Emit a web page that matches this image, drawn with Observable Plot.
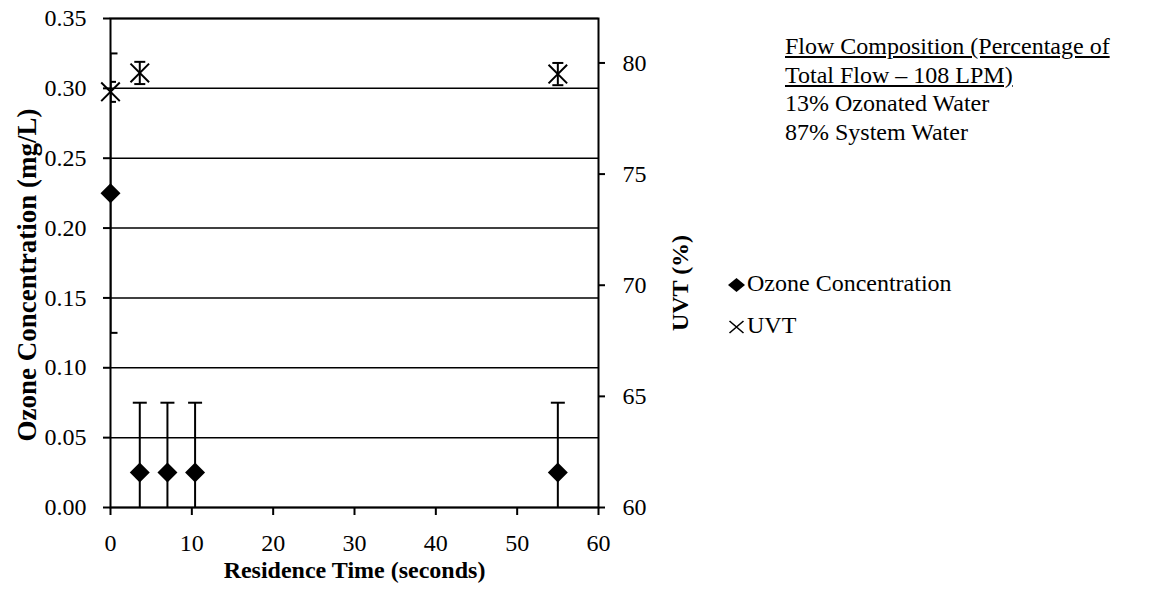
<!DOCTYPE html>
<html><head><meta charset="utf-8">
<script src="https://cdn.jsdelivr.net/npm/d3@7"></script>
<script src="https://cdn.jsdelivr.net/npm/@observablehq/plot@0.6"></script>
<style>
body{margin:0;background:#fff;}
#wrap{position:relative;width:1158px;height:592px;font-family:"Liberation Serif","Times New Roman",serif;color:#000;}
.note{position:absolute;left:785px;top:32px;font-size:24px;line-height:28.5px;white-space:nowrap;}
.u{text-decoration:underline;}
.leg{position:absolute;left:728px;font-size:24px;line-height:28px;white-space:nowrap;}
.leg svg{vertical-align:-1px;margin-right:2px;}
</style></head><body><div id="wrap"></div>
<script>
// ---- data ----
const xTicks = [0, 10, 20, 30, 40, 50, 60];
const yTicks = [0, 0.05, 0.10, 0.15, 0.20, 0.25, 0.30, 0.35];
const uvtTicks = [60, 65, 70, 75, 80];
const yDomain = [0, 0.35];
const uvtDomain = [60, 82];

const ozoneTime = [0, 3.6, 7.0, 10.4, 55.0];
const ozoneConc = [0.225, 0.025, 0.025, 0.025, 0.025];
const ozoneErr  = [0.10, 0.05, 0.05, 0.05, 0.05];

const uvtTime  = [0, 3.6, 55.0];
const uvtValue = [78.7, 79.55, 79.5];
const uvtErr   = [0.45, 0.5, 0.5];

const noteLines = ["Flow Composition (Percentage of", "Total Flow \u2013 108 LPM)", "13% Ozonated Water", "87% System Water"];
const seriesNames = ["Ozone Concentration", "UVT"];

// ---- derived tables ----
const toY = v => (v - uvtDomain[0]) / (uvtDomain[1] - uvtDomain[0]) * yDomain[1];
const fromY = y => uvtDomain[0] + y / yDomain[1] * (uvtDomain[1] - uvtDomain[0]);

const ozone = ozoneTime.map((t, i) => ({t, c: ozoneConc[i], lo: ozoneConc[i] - ozoneErr[i], hi: ozoneConc[i] + ozoneErr[i]}));
const uvt = uvtTime.map((t, i) => ({t, v: toY(uvtValue[i]), lo: toY(uvtValue[i] - uvtErr[i]), hi: toY(uvtValue[i] + uvtErr[i])}));
const ozoneCaps = ozone.flatMap(d => [{t: d.t, y: d.lo}, {t: d.t, y: d.hi}]);
const uvtCaps = uvt.flatMap(d => [{t: d.t, y: d.lo}, {t: d.t, y: d.hi}]);

const hbar = {draw(ctx, size) { const r = Math.sqrt(size / Math.PI); ctx.moveTo(-r, 0); ctx.lineTo(r, 0); }};

const chart = Plot.plot({
  width: 1158, height: 592,
  marginLeft: 110, marginRight: 560, marginTop: 18, marginBottom: 85,
  style: {fontFamily: "'Liberation Serif', 'Times New Roman', serif", fontSize: "24px", color: "black", background: "white", overflow: "visible"},
  x: {domain: [0, 60]},
  y: {domain: yDomain},
  marks: [
    Plot.gridY(yTicks, {stroke: "black", strokeOpacity: 1, strokeWidth: 1.5}),
    Plot.frame({stroke: "black", strokeWidth: 2}),
    Plot.axisY(yTicks, {anchor: "left", tickSize: 7, tickPadding: 17, strokeWidth: 2, tickFormat: d => d.toFixed(2), label: null}),
    Plot.axisY(uvtTicks.map(toY), {anchor: "right", tickSize: 6, tickPadding: 18, strokeWidth: 2, tickFormat: d => String(Math.round(fromY(d))), label: null}),
    Plot.axisX(xTicks, {anchor: "bottom", tickSize: 8, tickPadding: 18, strokeWidth: 2, label: null}),
    Plot.ruleX(ozone, {x: "t", y1: "lo", y2: "hi", stroke: "black", strokeWidth: 2, clip: true}),
    Plot.dot(ozoneCaps, {x: "t", y: "y", symbol: hbar, r: 7, stroke: "black", strokeWidth: 2, fill: "none", clip: true}),
    Plot.dot(ozone, {x: "t", y: "c", symbol: "diamond2", r: 9, fill: "black", stroke: "none"}),
    Plot.ruleX(uvt, {x: "t", y1: "lo", y2: "hi", stroke: "black", strokeWidth: 2, clip: true}),
    Plot.dot(uvtCaps, {x: "t", y: "y", symbol: hbar, r: 5.5, stroke: "black", strokeWidth: 2, fill: "none", clip: true}),
    Plot.dot(uvt, {x: "t", y: "v", symbol: "times", r: 8.5, stroke: "black", strokeWidth: 2}),
    Plot.text(["Residence Time (seconds)"], {frameAnchor: "bottom", dy: 70, fontWeight: "bold", fontSize: 24, textAnchor: "middle"}),
    Plot.text(["Ozone Concentration (mg/L)"], {frameAnchor: "left", textAnchor: "middle", rotate: -90, dx: -83, dy: 12, fontWeight: "bold", fontSize: 27}),
    Plot.text(["UVT (%)"], {frameAnchor: "right", textAnchor: "middle", rotate: -90, dx: 82, dy: 20, fontWeight: "bold", fontSize: 24})
  ]
});

const wrap = document.getElementById("wrap");
wrap.appendChild(chart);

const note = document.createElement("div");
note.className = "note";
note.innerHTML = noteLines.map((s, i) => `<div class="${i < 2 ? "u" : ""}">${s}</div>`).join("");
wrap.appendChild(note);

const symSvg = [
  `<svg width="17" height="14" viewBox="0 0 17 14"><path d="M8.5 0 L17 7 L8.5 14 L0 7 Z" fill="black"/></svg>`,
  `<svg width="17" height="14" viewBox="0 0 17 14"><path d="M1.5 1 L15.5 13 M1.5 13 L15.5 1" stroke="black" stroke-width="1.6"/></svg>`
];
const legTops = [269, 311];
seriesNames.forEach((name, i) => {
  const d = document.createElement("div");
  d.className = "leg";
  d.style.top = legTops[i] + "px";
  d.innerHTML = symSvg[i] + name;
  wrap.appendChild(d);
});
</script></body></html>
